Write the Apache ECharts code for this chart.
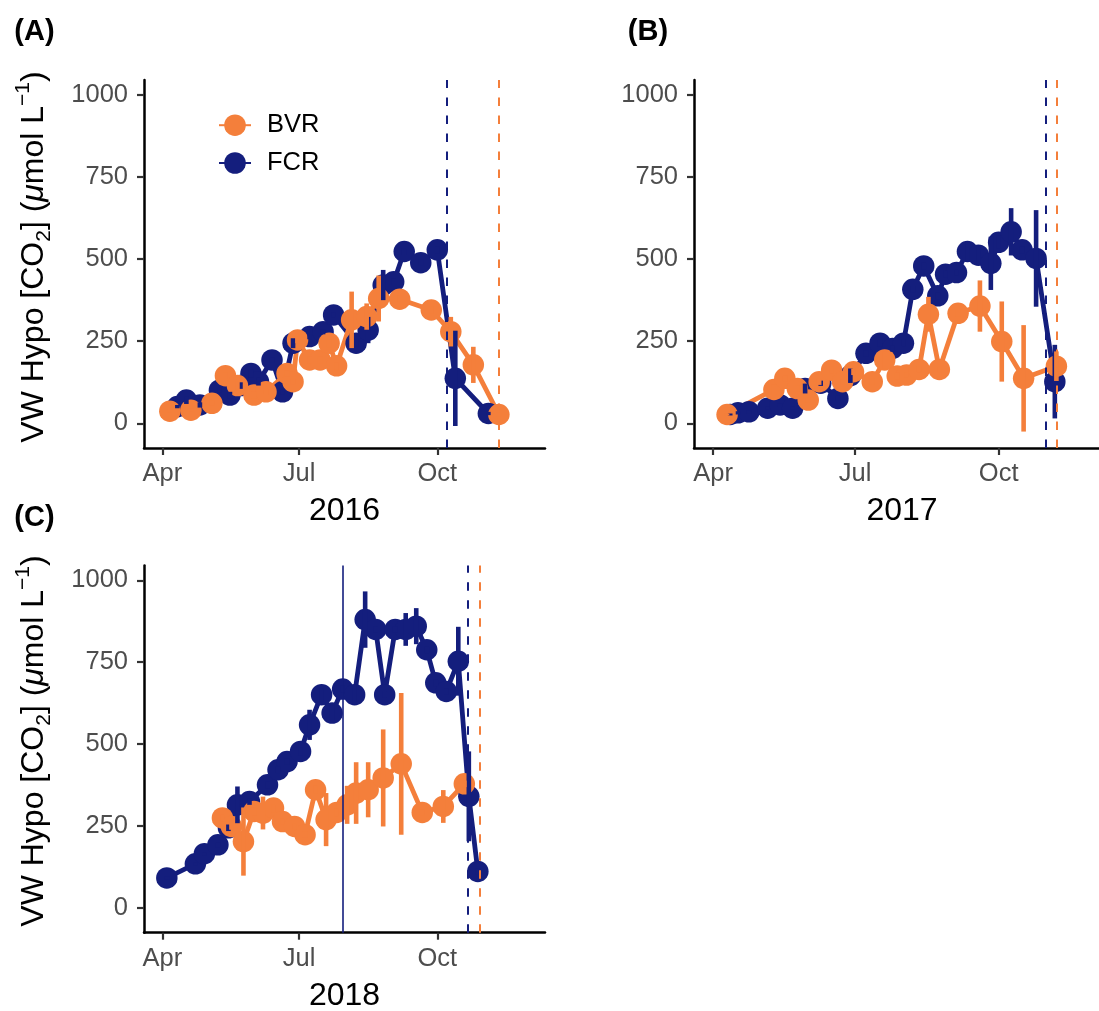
<!DOCTYPE html>
<html><head><meta charset="utf-8">
<script src="https://cdn.jsdelivr.net/npm/echarts@6/dist/echarts.min.js"></script>
<style>html,body{margin:0;padding:0;background:#fff}#c{width:1099px;height:1011px}</style>
</head><body><div id="c"></div>
<script>
const ORANGE = '#F47F3B', NAVY = '#141E7D';
const FONT = 'Liberation Sans, Arial, sans-serif';

// x-axis month ticks (days since 1 April) and labels
const monthTicks = [0, 91, 183];
const monthLabels = ['Apr', 'Jul', 'Oct'];
const yTicks = [0, 250, 500, 750, 1000];
const years = ['2016', '2017', '2018'];
const panelTags = ['(A)', '(B)', '(C)'];
const reservoirs = ['BVR', 'FCR'];

// ---- 2016 ----
const bvr2016Dates = ['2016-04-06','2016-04-20','2016-05-04','2016-05-13','2016-05-21','2016-06-01','2016-06-09','2016-06-23','2016-06-27','2016-06-30','2016-07-08','2016-07-15','2016-07-21','2016-07-26','2016-08-05','2016-08-15','2016-08-23','2016-09-06','2016-09-27','2016-10-10','2016-10-25','2016-11-11'];
const bvr2016Values = [37,40,61,145,115,86,96,152,127,254,193,193,244,175,315,325,380,378,345,279,178,27];
const bvr2016Sd = [5,5,8,10,12,10,8,10,8,10,10,10,12,10,86,40,70,10,10,45,55,5];
const fcr2016Dates = ['2016-04-11','2016-04-17','2016-04-26','2016-05-09','2016-05-16','2016-05-23','2016-05-30','2016-06-04','2016-06-13','2016-06-20','2016-06-27','2016-07-08','2016-07-17','2016-07-24','2016-08-08','2016-08-16','2016-08-26','2016-09-02','2016-09-09','2016-09-20','2016-10-01','2016-10-13','2016-11-04'];
const fcr2016Values = [51,71,56,101,86,115,152,127,193,96,244,264,279,330,244,284,421,431,523,489,528,137,30];
const fcr2016Sd = [5,12,8,8,10,10,12,12,8,8,15,8,8,8,10,40,46,10,10,10,10,145,5];

// ---- 2017 ----
const bvr2017Dates = ['2017-04-10','2017-05-10','2017-05-17','2017-05-25','2017-06-01','2017-06-08','2017-06-16','2017-06-23','2017-06-30','2017-07-12','2017-07-20','2017-07-28','2017-08-03','2017-08-11','2017-08-17','2017-08-24','2017-09-05','2017-09-19','2017-10-03','2017-10-17','2017-11-07'];
const bvr2017Values = [27,103,137,106,71,127,162,127,157,127,193,144,147,164,332,164,335,357,249,137,174];
const bvr2017Sd = [3,15,10,10,8,10,10,8,10,10,25,10,8,8,53,10,10,78,122,162,45];
const fcr2017Dates = ['2017-04-12','2017-04-17','2017-04-24','2017-05-06','2017-05-14','2017-05-22','2017-05-30','2017-06-09','2017-06-20','2017-06-28','2017-07-08','2017-07-17','2017-07-25','2017-08-01','2017-08-07','2017-08-14','2017-08-23','2017-08-28','2017-09-04','2017-09-11','2017-09-18','2017-09-26','2017-10-01','2017-10-09','2017-10-16','2017-10-25','2017-11-06'];
const fcr2017Values = [27,32,35,46,56,46,106,122,76,145,213,244,228,244,408,479,388,454,459,523,512,487,551,583,528,502,127];
const fcr2017Sd = [3,5,5,5,5,5,15,8,8,22,10,10,10,10,10,10,10,10,10,30,30,81,20,72,10,147,112];

// ---- 2018 ----
const bvr2018Dates = ['2018-05-11','2018-05-17','2018-05-25','2018-06-01','2018-06-07','2018-06-14','2018-06-20','2018-06-28','2018-07-05','2018-07-12','2018-07-19','2018-07-26','2018-08-02','2018-08-08','2018-08-16','2018-08-26','2018-09-07','2018-09-21','2018-10-05','2018-10-19'];
const bvr2018Values = [275,249,203,295,290,305,264,249,224,361,270,292,315,351,361,397,440,292,310,379];
const bvr2018Sd = [10,10,104,12,50,12,10,10,10,12,81,12,58,94,84,148,216,10,50,10];
const fcr2018Dates = ['2018-04-04','2018-04-23','2018-04-29','2018-05-08','2018-05-15','2018-05-21','2018-05-29','2018-06-10','2018-06-17','2018-06-23','2018-07-02','2018-07-08','2018-07-16','2018-07-23','2018-07-30','2018-08-07','2018-08-14','2018-08-21','2018-08-27','2018-09-03','2018-09-10','2018-09-17','2018-09-24','2018-09-30','2018-10-07','2018-10-15','2018-10-22','2018-10-28'];
const fcr2018Values = [92,135,166,193,245,315,325,376,422,447,478,559,651,595,668,651,880,850,651,850,850,860,788,687,661,753,341,112];
const fcr2018Sd = [5,5,5,8,10,56,10,10,10,10,12,46,20,22,10,30,86,10,10,10,50,55,10,10,10,105,137,10];

// turnover dates (dashed) and oxygen system activation (solid, 2018)
const turnoverFcr = ['2016-10-07', '2017-10-31', '2018-10-21'];
const turnoverBvr = ['2016-11-11', '2017-11-07', '2018-10-29'];
const oxygenOn2018 = '2018-07-30';

function offset(s) {
  const p = s.split('-').map(Number);
  return (Date.UTC(p[0], p[1] - 1, p[2]) - Date.UTC(p[0], 3, 1)) / 86400000;
}

const panels = [
  {bvr:[bvr2016Dates,bvr2016Values,bvr2016Sd], fcr:[fcr2016Dates,fcr2016Values,fcr2016Sd]},
  {bvr:[bvr2017Dates,bvr2017Values,bvr2017Sd], fcr:[fcr2017Dates,fcr2017Values,fcr2017Sd]},
  {bvr:[bvr2018Dates,bvr2018Values,bvr2018Sd], fcr:[fcr2018Dates,fcr2018Values,fcr2018Sd]}
];

const grids = [
  {left:144, top:80, width:401, height:368},
  {left:694, top:80, width:405, height:368},
  {left:144, top:565.5, width:401, height:367.2}
];
const xMax = [254.7, 247.3, 254.7];

const xAxes = [], yAxes = [], series = [];
panels.forEach((p, i) => {
  xAxes.push({
    gridIndex:i, type:'value', min:-12.2, max:xMax[i],
    axisLine:{onZero:false, lineStyle:{color:'#000', width:2.5}},
    axisTick:{customValues:monthTicks, length:7, lineStyle:{color:'#333', width:2.2}},
    axisLabel:{customValues:monthTicks, formatter:v => monthLabels[monthTicks.indexOf(v)] || '',
      color:'#4D4D4D', fontSize:25.5, fontFamily:FONT, margin:13},
    splitLine:{show:false}
  });
  yAxes.push({
    gridIndex:i, type:'value', min:-75, max:1045,
    axisLine:{show:true, onZero:false, lineStyle:{color:'#000', width:2.5}},
    axisTick:{show:true, customValues:yTicks, length:7, lineStyle:{color:'#333', width:2.2}},
    axisLabel:{customValues:yTicks, formatter:v => String(v), color:'#4D4D4D', fontSize:25.5, fontFamily:FONT, margin:16},
    splitLine:{show:false}
  });
  const mk = (color, date, extra) => ({
    symbol:['none','none'], silent:true, animation:false, label:{show:false},
    lineStyle:{color:color, width:2, type:[8.5,9.5]},
    data:[{xAxis:offset(date)}].concat(extra || [])
  });
  const lineSeries = (name, arr, color, mLine) => ({
    type:'line', name:name, xAxisIndex:i, yAxisIndex:i,
    data:arr[0].map((d,k) => [offset(d), arr[1][k]]),
    symbol:'circle', symbolSize:21.5, showAllSymbol:true,
    lineStyle:{width:4.8, color:color}, itemStyle:{color:color},
    emphasis:{disabled:true}, animation:false, z:2, markLine:mLine
  });
  const errSeries = (name, arr, color) => ({
    type:'custom', name:name + ' sd', xAxisIndex:i, yAxisIndex:i,
    data:arr[0].map((d,k) => [offset(d), arr[1][k] - arr[2][k], arr[1][k] + arr[2][k]]),
    encode:{x:0, y:[1,2]}, z:4, animation:false, silent:true,
    renderItem:(params, api) => {
      const a = api.coord([api.value(0), api.value(1)]);
      const b = api.coord([api.value(0), api.value(2)]);
      return {type:'line', shape:{x1:a[0], y1:a[1], x2:b[0], y2:b[1]},
        style:{stroke:color, lineWidth:4.6, lineCap:'butt'}};
    }
  });
  const extraFcr = i === 2 ? [{xAxis:offset(oxygenOn2018), lineStyle:{type:'solid', width:1.6, color:NAVY}}] : [];
  series.push(lineSeries('FCR', p.fcr, NAVY, mk(NAVY, turnoverFcr[i], extraFcr)));
  series.push(lineSeries('BVR', p.bvr, ORANGE, mk(ORANGE, turnoverBvr[i])));
  series.push(errSeries('FCR', p.fcr, NAVY));
  series.push(errSeries('BVR', p.bvr, ORANGE));
});

const yTitle = (y) => ({
  type:'text', x:34, y:y, rotation:Math.PI/2, silent:true,
  style:{
    text:'{n|VW Hypo [CO}{s|2}{n|] (}{m|\u03BC}{n|mol L}{p|\u22121}{n|)}',
    align:'center', verticalAlign:'middle', fill:'#000', fontFamily:FONT, fontSize:32,
    rich:{
      n:{fontSize:32, lineHeight:42, verticalAlign:'middle', fontFamily:FONT, fill:'#000'},
      m:{fontSize:32, lineHeight:42, verticalAlign:'middle', fontFamily:FONT, fontStyle:'italic', fill:'#000'},
      s:{fontSize:21, lineHeight:21, verticalAlign:'bottom', fontFamily:FONT, fill:'#000'},
      p:{fontSize:21, lineHeight:21, verticalAlign:'top', fontFamily:FONT, fill:'#000'}
    }
  }
});
const txt = (x, y, t, size, weight) => ({
  type:'text', x:x, y:y, silent:true,
  style:{text:t, align:'center', verticalAlign:'middle', fill:'#000', fontFamily:FONT, fontSize:size, fontWeight:weight || 'normal'}
});

const chart = echarts.init(document.getElementById('c'), null, {renderer:'canvas'});
chart.setOption({
  animation:false,
  backgroundColor:'#fff',
  grid:grids,
  xAxis:xAxes,
  yAxis:yAxes,
  legend:{
    data:reservoirs, orient:'vertical', left:213, top:107.2, itemWidth:32, itemHeight:27, itemGap:11.8,
    selectedMode:false,
    textStyle:{fontSize:25.5, color:'#000', fontFamily:FONT, padding:[0,0,0,11]}
  },
  graphic:[
    txt(34.5, 32, panelTags[0], 29, 'bold'),
    txt(648, 32, panelTags[1], 29, 'bold'),
    txt(34.5, 518, panelTags[2], 29, 'bold'),
    txt(344.5, 511, years[0], 32),
    txt(902, 511, years[1], 32),
    txt(344.5, 996, years[2], 32),
    yTitle(257),
    yTitle(741)
  ],
  series:series
});
</script>
</body></html>
